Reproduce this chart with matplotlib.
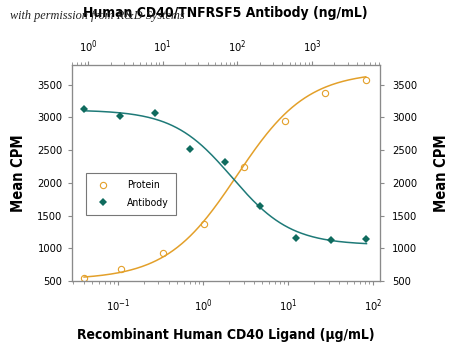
import numpy as np
import matplotlib
matplotlib.use("Agg")
import matplotlib.pyplot as plt
from matplotlib.lines import Line2D

plt.rcParams['font.family'] = ['DejaVu Sans']
plt.rcParams['font.stretch'] = 'condensed'
plt.rcParams['mathtext.fontset'] = 'custom'
plt.rcParams['mathtext.rm'] = 'DejaVu Sans:stretch=condensed'

# Protein: Recombinant Human CD40 Ligand (ug/mL) -> bottom axis
protein_conc = [0.04, 0.11, 0.34, 1.03, 3.06, 9.2, 27, 82]
protein_cpm = [545, 690, 925, 1365, 2235, 2940, 3370, 3575]
# 4PL fit parameters (value at low conc, value at high conc, EC50, hill)
protein_fit = [520, 3700, 2.5, 1.05]

# Antibody: Human CD40/TNFRSF5 Antibody (ng/mL) -> top axis
antibody_conc = [0.89, 2.7, 7.9, 23.4, 69, 204, 616, 1820, 5370]
antibody_cpm = [3130, 3025, 3065, 2520, 2325, 1640, 1155, 1130, 1145]
antibody_fit = [3115, 1050, 85, 1.1]

y_ticks = [500, 1000, 1500, 2000, 2500, 3000, 3500]

ORANGE = '#E3A02A'
TEAL_LINE = '#1E7A78'
TEAL_MARK = '#0F6B5E'
SPINE = '#8a8a8a'


def fourpl(x, p):
    a, d, ec, h = p
    return a + (d - a) / (1 + (ec / x) ** h)


fig = plt.figure(figsize=(4.5, 3.48), dpi=100)
ax = fig.add_axes([0.159, 0.1925, 0.685, 0.6205])
ax.set_xscale('log')
ax.set_xlim(0.0285, 120)
ax.set_ylim(500, 3800)

ax_top = ax.twiny()
ax_top.set_xscale('log')
ax_top.set_xlim(0.6, 8100)

ax_r = ax.twinx()
ax_r.set_ylim(500, 3800)

# Protein curve & points
xp = np.logspace(np.log10(protein_conc[0]), np.log10(protein_conc[-1]), 200)
ax.plot(xp, fourpl(xp, protein_fit), color=ORANGE, lw=1.1)
ax.plot(protein_conc, protein_cpm, 'o', mfc='none', mec=ORANGE, ms=4.5, mew=0.8)

# Antibody curve & points
xa = np.logspace(np.log10(antibody_conc[0]), np.log10(antibody_conc[-1]), 200)
ax_top.plot(xa, fourpl(xa, antibody_fit), color=TEAL_LINE, lw=1.1)
ax_top.plot(antibody_conc, antibody_cpm, 'D', color=TEAL_MARK, ms=4.2, mew=0)

for a in (ax, ax_top, ax_r):
    for s in a.spines.values():
        s.set_color(SPINE)
        s.set_linewidth(0.8)
    a.tick_params(which='both', color=SPINE, labelsize=8)
    a.tick_params(which='major', length=3)
    a.tick_params(which='minor', length=2)

ax.set_yticks(y_ticks)
ax_r.set_yticks(y_ticks)
ax.set_xticks([0.1, 1, 10, 100])
ax_top.set_xticks([1, 10, 100, 1000])
ax.tick_params(axis='x', pad=9)
ax_top.tick_params(axis='x', pad=4)
ax_r.tick_params(axis='y', pad=6)

ax.set_xlabel('Recombinant Human CD40 Ligand (\u03bcg/mL)', fontsize=10, fontweight='bold', labelpad=10)
ax_top.set_xlabel('Human CD40/TNFRSF5 Antibody (ng/mL)', fontsize=10, fontweight='bold', labelpad=16)
ax.set_ylabel('Mean CPM', fontsize=10.5, fontweight='bold', labelpad=8)
ax_r.set_ylabel('Mean CPM', fontsize=10.5, fontweight='bold', labelpad=12)

handles = [
    Line2D([], [], ls='none', marker='o', mfc='none', mec=ORANGE, ms=4.5, mew=0.8, label='Protein'),
    Line2D([], [], ls='none', marker='D', color=TEAL_MARK, ms=4.2, mew=0, label='Antibody'),
]
leg = ax_r.legend(handles=handles, loc='upper left', bbox_to_anchor=(0.046, 0.5),
                  borderaxespad=0, fontsize=7.5, frameon=True, fancybox=False,
                  edgecolor='#555555', borderpad=0.7, handlelength=2.0,
                  handletextpad=1.3, labelspacing=0.7)
leg.get_frame().set_linewidth(0.8)

fig.text(0.022, 0.955, 'with permission from R&D Systems', fontsize=8.8,
         family=['Liberation Serif', 'DejaVu Serif'], style='italic', color='#222222',
         va='center', ha='left')

fig.savefig('out.png', dpi=100)
